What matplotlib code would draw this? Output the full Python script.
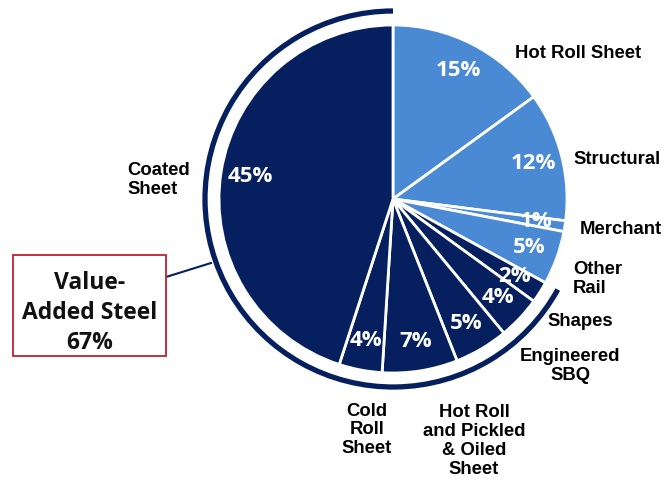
import matplotlib
matplotlib.use("Agg")
import matplotlib.pyplot as plt
from matplotlib.patches import Arc, Rectangle
import numpy as np

# share of shipments by product, clockwise from 12 o'clock
shares = [15, 12, 1, 5, 2, 4, 5, 7, 4, 45]
value_added = [False, False, False, False, True, True, True, True, True, True]

labels = ["Hot Roll Sheet", "Structural", "Merchant", "Other\nRail", "Shapes",
          "Engineered\nSBQ", "Hot Roll\nand Pickled\n& Oiled\nSheet",
          "Cold\nRoll\nSheet", "Coated\nSheet"]
value_added_total = 67

light = "#4a89d3"
navy = "#06205f"

W, H = 666, 482
fig = plt.figure(figsize=(W / 100, H / 100), dpi=100)
ax = fig.add_axes([0, 0, 1, 1])

def Y(y):
    # work in pixel-like coordinates measured from the top
    return H - y

cx, cy, R = 393, Y(199), 174
colors = [navy if v else light for v in value_added]
wedges, _ = ax.pie(shares, colors=colors, startangle=90, counterclock=False,
                   center=(cx, cy), radius=R,
                   wedgeprops=dict(edgecolor="white", linewidth=2))

for w, s in zip(wedges, shares):
    mid = np.deg2rad((w.theta1 + w.theta2) / 2)
    d = 0.83 * R
    ax.text(cx + d * np.cos(mid), cy + d * np.sin(mid), f"{s}%",
            ha="center", va="center", color="white", fontsize=16,
            fontweight="bold", family="Open Sans")

# bracket arc around the value-added products
start = 90 - sum(s for s, v in zip(shares, value_added) if not v) * 3.6
ax.add_patch(Arc((cx, cy), 2 * 188, 2 * 188, theta1=90, theta2=360 + start,
                 color=navy, lw=3.8))

label_pos = [(578, 54, "center"), (617, 160, "center"), (621, 229, "center"),
             (573, 279, "left"), (580, 322, "center"), (570, 366, "center"),
             (474, 441, "center"), (367, 430, "center"), (127, 180, "left")]
for text, (x, y, ha) in zip(labels, label_pos):
    ax.text(x, Y(y), text, ha=ha, va="center", fontsize=13.3, fontweight="bold",
            family="Liberation Sans", color="black", linespacing=1.15,
            multialignment=ha)

# callout box
ax.plot([166, 211], [Y(277), Y(263)], color=navy, lw=1.5)
ax.add_patch(Rectangle((13, Y(356)), 153, 101, facecolor="white",
                       edgecolor="#c0202e", lw=1.3, zorder=3))
ax.text(89.5, Y(313), f"Value-\nAdded Steel\n{value_added_total}%",
        ha="center", va="center", fontsize=16.5, fontweight="bold",
        family="Open Sans", color="#111111", linespacing=1.32, zorder=4)

ax.set_xlim(0, W)
ax.set_ylim(0, H)
ax.set_aspect("equal")
ax.axis("off")
fig.savefig("out.png", dpi=100)
